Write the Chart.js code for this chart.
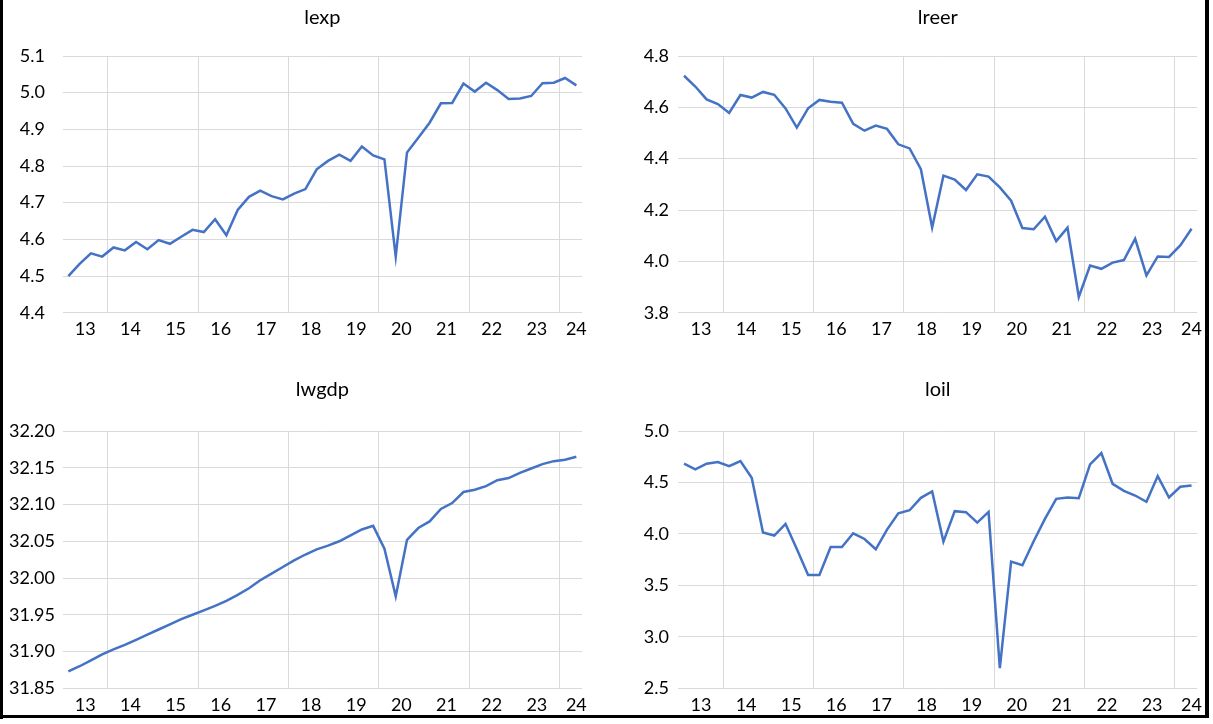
<!DOCTYPE html>
<html>
<head>
<meta charset="utf-8">
<script src="https://cdn.jsdelivr.net/npm/chart.js@4.4.1/dist/chart.umd.min.js"></script>
<style>
  body { margin: 0; background: #fff; width: 1213px; height: 724px; position: relative; overflow: hidden; }
  canvas { position: absolute; }
  .borde { position: absolute; background: #000; }
</style>
</head>
<body>
<canvas id="gLexp" width="606" height="355" style="left:0;top:0"></canvas>
<canvas id="gLreer" width="607" height="355" style="left:606px;top:0"></canvas>
<canvas id="gLwgdp" width="606" height="355" style="left:0;top:360px"></canvas>
<canvas id="gLoil" width="607" height="355" style="left:606px;top:360px"></canvas>
<div class="borde" style="left:0;top:0;width:3px;height:719px"></div>
<div class="borde" style="left:0;top:715px;width:1209px;height:3px"></div>
<div class="borde" style="left:1205px;top:0;width:4px;height:718px"></div>
<script>
// datos trimestrales 2013Q1 - 2024Q2
const anios = ['13', '14', '15', '16', '17', '18', '19', '20', '21', '22', '23', '24'];
const trimestresPorAnio = [4, 4, 4, 4, 4, 4, 4, 4, 4, 4, 4, 2];

const lexp = [4.500, 4.533, 4.562, 4.553, 4.578, 4.570, 4.593, 4.573, 4.598, 4.588,
  4.607, 4.626, 4.620, 4.655, 4.611, 4.680, 4.716, 4.733, 4.718, 4.709,
  4.725, 4.737, 4.791, 4.814, 4.831, 4.814, 4.853, 4.829, 4.818, 4.553,
  4.837, 4.877, 4.918, 4.971, 4.972, 5.025, 5.003, 5.027, 5.007, 4.983,
  4.984, 4.991, 5.026, 5.027, 5.040, 5.020];

const lreer = [4.723, 4.681, 4.631, 4.613, 4.578, 4.648, 4.638, 4.660, 4.649, 4.596,
  4.521, 4.596, 4.629, 4.622, 4.618, 4.536, 4.509, 4.529, 4.516, 4.456,
  4.440, 4.359, 4.132, 4.334, 4.319, 4.278, 4.339, 4.330, 4.288, 4.236,
  4.130, 4.125, 4.174, 4.079, 4.131, 3.861, 3.984, 3.971, 3.995, 4.005,
  4.088, 3.945, 4.019, 4.017, 4.062, 4.127];

const lwgdp = [31.873, 31.880, 31.888, 31.896, 31.903, 31.909, 31.916, 31.923, 31.930, 31.937,
  31.944, 31.950, 31.956, 31.962, 31.969, 31.977, 31.986, 31.997, 32.006, 32.015,
  32.024, 32.032, 32.039, 32.044, 32.050, 32.058, 32.066, 32.071, 32.040, 31.975,
  32.052, 32.068, 32.077, 32.094, 32.102, 32.117, 32.120, 32.125, 32.133, 32.136,
  32.143, 32.149, 32.155, 32.159, 32.161, 32.165];

const loil = [4.682, 4.627, 4.682, 4.698, 4.659, 4.708, 4.545, 4.013, 3.984, 4.097,
  3.854, 3.601, 3.601, 3.873, 3.873, 4.006, 3.951, 3.851, 4.042, 4.201,
  4.230, 4.351, 4.412, 3.925, 4.221, 4.211, 4.110, 4.214, 2.695, 3.731,
  3.695, 3.929, 4.146, 4.341, 4.354, 4.347, 4.675, 4.786, 4.487, 4.419,
  4.373, 4.312, 4.562, 4.354, 4.458, 4.471];

const ticksLexp = [4.4, 4.5, 4.6, 4.7, 4.8, 4.9, 5.0, 5.1];
const ticksLreer = [3.8, 4.0, 4.2, 4.4, 4.6, 4.8];
const ticksLwgdp = [31.85, 31.90, 31.95, 32.00, 32.05, 32.10, 32.15, 32.20];
const ticksLoil = [2.5, 3.0, 3.5, 4.0, 4.5, 5.0];

Chart.defaults.font.family = 'Lato, "Open Sans", sans-serif';

// etiqueta de cada año centrada en sus trimestres, linea de grilla cada 2 años
const etiquetasX = {};
const lineasX = [];
let idx = 0;
anios.forEach((a, k) => {
  const n = trimestresPorAnio[k];
  etiquetasX[(idx + Math.min(1.5, n / 2)).toFixed(2)] = a;
  if (k % 2 === 1) lineasX.push(idx - 0.5);
  idx += n;
});
const totalTrim = idx;
const posX = Object.keys(etiquetasX).map(Number).concat(lineasX).sort((a, b) => a - b);

function esLinea(v) {
  return lineasX.some(l => Math.abs(l - v) < 0.01);
}

function crearPanel(id, titulo, serie, ticksY, dec, g) {
  const ctx = document.getElementById(id).getContext('2d');
  return new Chart(ctx, {
    type: 'line',
    data: {
      datasets: [{
        data: serie.map((v, i) => ({ x: i, y: v })),
        borderColor: '#4472C4',
        borderWidth: 2.5,
        pointRadius: 0,
        tension: 0,
        fill: false
      }]
    },
    options: {
      responsive: false,
      animation: false,
      devicePixelRatio: 1,
      layout: { padding: { left: 0, right: g.derecha, top: 0, bottom: 0 } },
      plugins: {
        legend: { display: false },
        tooltip: { enabled: false },
        title: {
          display: true, text: titulo, color: '#000', fullSize: false,
          font: { size: 20, weight: 'normal' },
          padding: { top: g.tituloArriba, bottom: g.tituloAbajo }
        }
      },
      scales: {
        x: {
          type: 'linear', min: -0.5, max: totalTrim - 0.5,
          afterBuildTicks: s => { s.ticks = posX.map(v => ({ value: v })); },
          afterFit: s => { s.height = g.altoX; },
          grid: {
            color: c => (c.tick && esLinea(c.tick.value)) ? '#d9d9d9' : 'rgba(0,0,0,0)',
            drawTicks: false
          },
          border: { display: false },
          ticks: {
            autoSkip: false, maxRotation: 0, padding: 6, color: '#000',
            font: { size: 18 },
            callback: v => etiquetasX[Number(v).toFixed(2)] || ''
          }
        },
        y: {
          min: ticksY[0], max: ticksY[ticksY.length - 1],
          afterBuildTicks: s => { s.ticks = ticksY.map(v => ({ value: v })); },
          afterFit: s => { s.width = g.anchoY; },
          grid: { color: '#d9d9d9', drawTicks: false },
          border: { display: false },
          ticks: {
            padding: g.padY, color: '#000', font: { size: 18 },
            callback: v => Number(v).toFixed(dec)
          }
        }
      }
    }
  });
}

crearPanel('gLexp', 'lexp', lexp, ticksLexp, 1,
  { derecha: 24, tituloArriba: 6, tituloAbajo: 26, altoX: 42.3, anchoY: 62.7, padY: 17.7 });
crearPanel('gLreer', 'lreer', lreer, ticksLreer, 1,
  { derecha: 15.8, tituloArriba: 6, tituloAbajo: 26, altoX: 42.3, anchoY: 72.4, padY: 9.4 });
crearPanel('gLwgdp', 'lwgdp', lwgdp, ticksLwgdp, 2,
  { derecha: 24, tituloArriba: 18, tituloAbajo: 29, altoX: 26.7, anchoY: 62.7, padY: 7.7 });
crearPanel('gLoil', 'loil', loil, ticksLoil, 1,
  { derecha: 15.8, tituloArriba: 18, tituloAbajo: 29, altoX: 26.7, anchoY: 72.4, padY: 9.4 });
</script>
</body>
</html>
